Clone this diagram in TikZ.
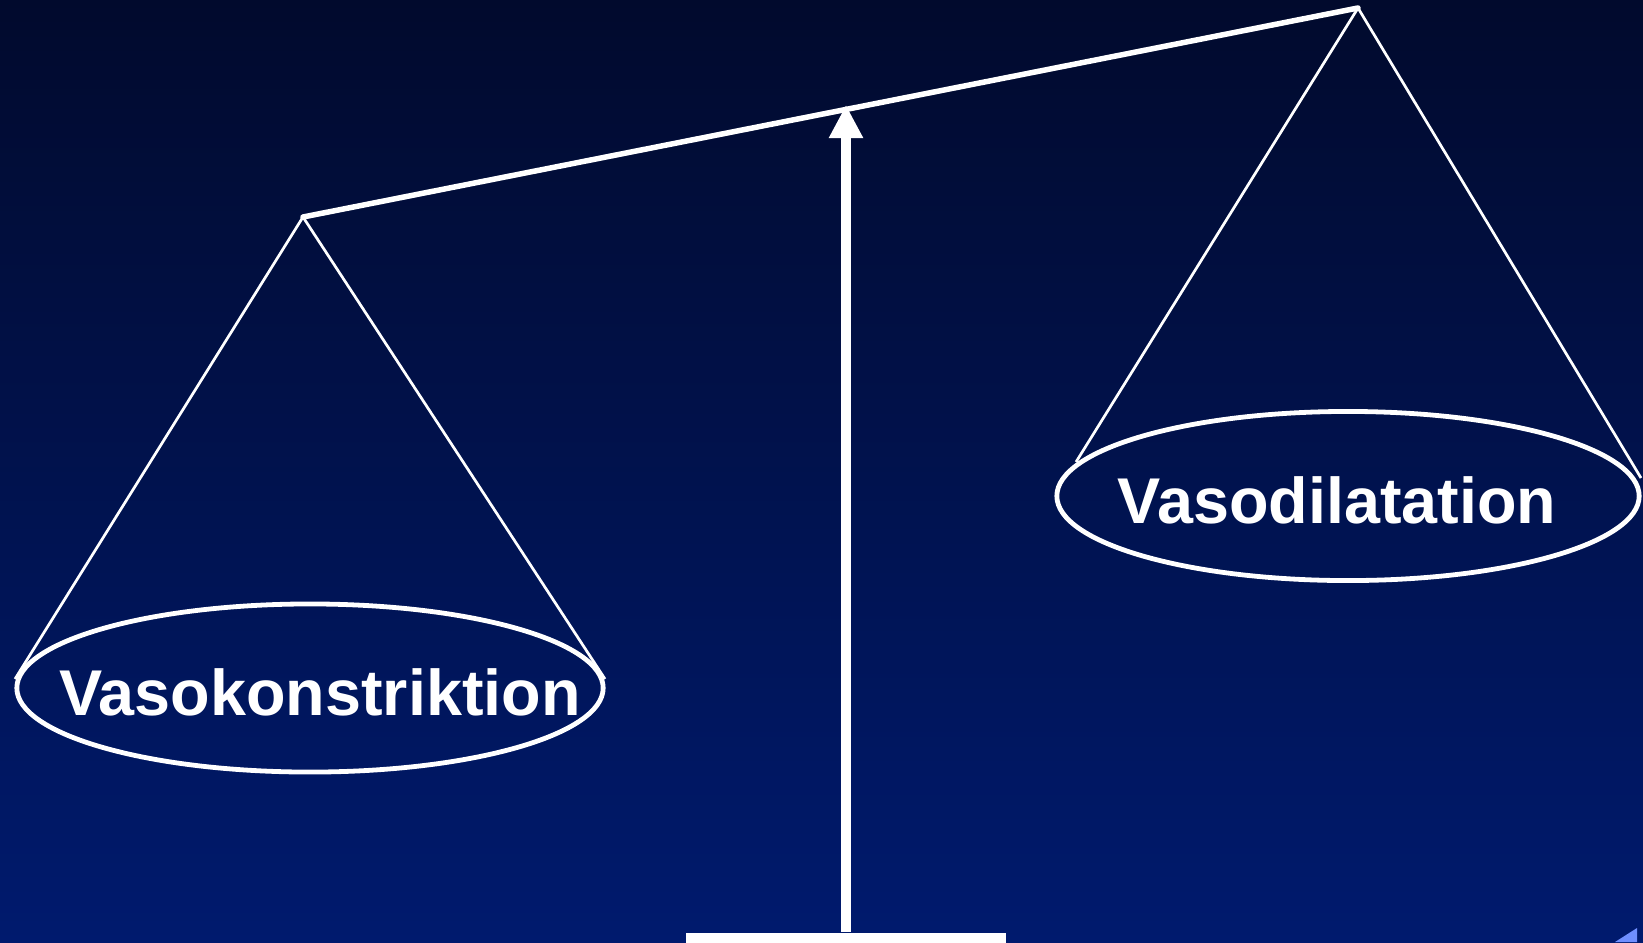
\documentclass[tikz,border=0pt]{standalone}
\usepackage{fontspec}
\setmainfont{Liberation Sans}
\usepackage{xcolor}
\definecolor{cTop}{HTML}{010A2D}
\definecolor{cBottom}{HTML}{001A6E}
\definecolor{cCorner}{HTML}{6F8FFF}
\usepackage{tikz}
\usetikzlibrary{positioning,arrows.meta,shapes.geometric}
\tikzset{
  beam/.style={draw=white,line width=0.055cm},
  cord/.style={draw=white,line width=0.027cm},
  pan/.style={draw=white,line width=0.048cm,ellipse,inner sep=0pt},
  pan-label/.style={text=white,anchor=base,inner sep=0pt,
    font=\fontsize{18.4}{22}\selectfont\bfseries},
  post/.style={draw=white,line width=0.1cm,-{Triangle[length=0.33cm,width=0.32cm]}},
  foot/.style={fill=white,minimum width=3.2cm,minimum height=0.3cm,inner sep=0pt,anchor=north},
}

\begin{document}
\begin{tikzpicture}[x=0.01cm,y=-0.01cm]
  \useasboundingbox (0,0) rectangle (1643,942);
  \shade[top color=cTop,bottom color=cBottom] (0,0) rectangle (1643,942);
  % beam and hanging points
  \coordinate (hangL) at (303,217);
  \coordinate (hangR) at (1358,8);
  \coordinate (pivot) at (846,105);
  \draw[beam,line cap=round] (hangL) -- (hangR);
  % pans
  \node[pan,minimum width=5.86cm,minimum height=1.68cm] (panL) at (310,688) {};
  \node[pan,minimum width=5.82cm,minimum height=1.69cm] (panR) at (1348,496) {};
  \node[pan-label] (txtL) at (320,715) {Vasokonstriktion};
  \node[pan-label] (txtR) at (1337,523) {Vasodilatation};
  \coordinate (panL-w) at (15,679);
  \coordinate (panL-e) at (605,679);
  \coordinate (panR-w) at (1076,462);
  \coordinate (panR-e) at (1641,478);
  \draw[cord] (panL-w) -- (hangL) -- (panL-e);
  \draw[cord] (panR-w) -- (hangR) -- (panR-e);
  % stand
  \node[foot] (base) at (846,932) {};
  \draw[post] (base.north) -- (pivot);
  \fill[cCorner] (1615,942) -- (1637,928) -- (1637,942) -- cycle;
\end{tikzpicture}
\end{document}
